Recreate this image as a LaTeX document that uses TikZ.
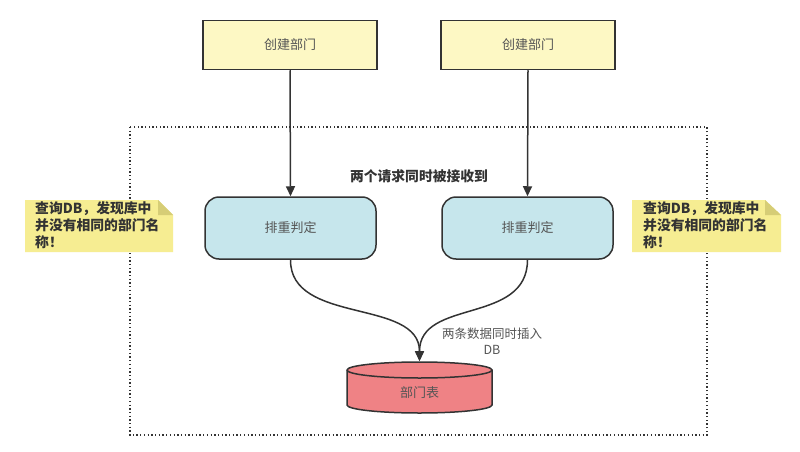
\documentclass[tikz,border=0pt]{standalone}
\usepackage{fontspec}
\setmainfont{Noto Sans CJK SC}
\usetikzlibrary{arrows.meta,calc}
\definecolor{boxline}{HTML}{333333}
\definecolor{yfill}{HTML}{FDF8C4}
\definecolor{bfill}{HTML}{C6E6EC}
\definecolor{rfill}{HTML}{EF8285}
\definecolor{nfill}{HTML}{F6ED92}
\definecolor{nfold}{HTML}{D6CD76}
\definecolor{gtext}{HTML}{555555}
\begin{document}
\begin{tikzpicture}[x=1pt,y=-1pt,
  createbox/.style={draw=boxline,line width=1.5pt,fill=yfill,minimum width=174pt,minimum height=49pt,inner sep=0pt,font=\fontsize{13}{15}\selectfont,text=gtext},
  judgebox/.style={draw=boxline,line width=1.5pt,fill=bfill,rounded corners=14pt,minimum width=171pt,minimum height=62pt,inner sep=0pt,font=\fontsize{13}{15}\selectfont,text=gtext},
  notetext/.style={font=\bfseries\fontsize{13.8}{17}\selectfont,text=boxline,align=left,anchor=north west,inner sep=0pt},
  conn/.style={draw=boxline,line width=1.5pt,-{Triangle[length=10pt,width=9pt]}},
  lbl/.style={font=\fontsize{12.5}{16}\selectfont,text=gtext,align=center}
]
\useasboundingbox (0,0) rectangle (800,452);
\fill[white] (0,0) rectangle (800,452);
% dashed frame
\draw[boxline,line width=1.3pt,dash pattern=on 1.3pt off 2.4pt] (130,127) rectangle (707,435);
% top boxes
\node[createbox] (c1) at (290,45) {创建部门};
\node[createbox] (c2) at (528,45) {创建部门};
% judge boxes
\node[judgebox] (j1) at (290.5,228) {排重判定};
\node[judgebox] (j2) at (527.5,228) {排重判定};
% label
\node[font=\bfseries\fontsize{13.8}{16}\selectfont,text=boxline] (t1) at (419,176) {两个请求同时被接收到};
% cylinder
\fill[rfill,draw=boxline,line width=1.5pt] (347,370) -- (347,405) arc[start angle=180,end angle=360,x radius=72.5pt,y radius=8pt] -- (492,370) arc[start angle=0,end angle=180,x radius=72.5pt,y radius=8pt];
\draw[boxline,line width=1.5pt] (347,370) arc[start angle=180,end angle=360,x radius=72.5pt,y radius=8pt];
\node[font=\fontsize{13}{15}\selectfont,text=gtext] (db) at (419.5,393) {部门表};
\coordinate (dbtop) at (419.5,361);
% arrows
\draw[conn] (c1.south) -- (j1.north);
\draw[conn] (c2.south) -- (j2.north);
\draw[conn] (j1.south) .. controls (290,325) and (419.5,298) .. (dbtop);
\draw[conn] (j2.south) .. controls (527.5,325) and (419.5,298) .. (dbtop);
\node[lbl] (l2) at (492,341) {两条数据同时插入\\DB};
% notes
\fill[nfill] (25,200) -- (158,200) -- (173,215) -- (173,252) -- (25,252) -- cycle;
\fill[nfold] (158,200) -- (173,215) -- (158,215) -- cycle;
\node[notetext] (n1) at (35,201) {查询DB，发现库中\\并没有相同的部门名\\称！};
\fill[nfill] (632,200) -- (765,200) -- (781,215) -- (781,252) -- (632,252) -- cycle;
\fill[nfold] (765,200) -- (781,215) -- (765,215) -- cycle;
\node[notetext] (n2) at (643,201) {查询DB，发现库中\\并没有相同的部门名\\称！};
\end{tikzpicture}
\end{document}
